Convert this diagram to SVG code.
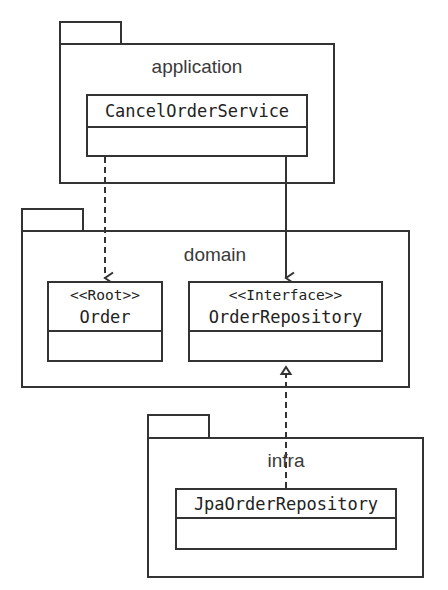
<svg xmlns="http://www.w3.org/2000/svg" width="448" height="590" viewBox="0 0 448 590">
<style>
.pkg{fill:#fff;stroke:#333;stroke-width:2}
.box{fill:#fff;stroke:#333;stroke-width:2}
.plabel{font-family:"Liberation Sans",Arial,sans-serif;font-size:19px;fill:#3a3a3a;text-anchor:middle}
.cname{font-family:"DejaVu Sans Mono","Liberation Mono",monospace;font-size:17px;fill:#222;text-anchor:middle}
.stereo{font-family:"DejaVu Sans Mono","Liberation Mono",monospace;font-size:14.5px;fill:#222;text-anchor:middle}
.conn{fill:none;stroke:#333;stroke-width:2}
.dash{stroke-dasharray:6 4}
</style>
<defs>
<marker id="open" markerWidth="14" markerHeight="12" refX="7" refY="10" orient="auto" markerUnits="userSpaceOnUse" viewBox="0 0 14 12">
<path d="M1.5,2 L7,10 L12.5,2" fill="none" stroke="#333" stroke-width="2"/>
</marker>
</defs>
<rect width="448" height="590" fill="#fff"/>
<g id="pkg-application">
<rect class="pkg" x="60" y="22" width="61" height="22"/>
<rect class="pkg" x="60" y="44" width="274" height="139"/>
<text class="plabel" x="197" y="73">application</text>
</g>
<g id="pkg-domain">
<rect class="pkg" x="22" y="209" width="61" height="22"/>
<rect class="pkg" x="22" y="231" width="387" height="156"/>
<text class="plabel" x="215" y="261">domain</text>
</g>
<g id="pkg-infra">
<rect class="pkg" x="148" y="415" width="61" height="23"/>
<rect class="pkg" x="148" y="438" width="275" height="139"/>
</g>
<g id="connectors">
<line class="conn dash" x1="105" y1="157" x2="105" y2="278" marker-end="url(#open)"/>
<line class="conn" x1="286" y1="156" x2="286" y2="278" marker-end="url(#open)"/>
<line class="conn dash" x1="286" y1="488" x2="286" y2="374"/>
<polygon points="286,367 281.5,374 290.5,374" fill="#fff" stroke="#333" stroke-width="2"/>
</g>
<g id="CancelOrderService">
<rect class="box" x="87" y="95" width="220" height="61"/>
<line class="conn" x1="87" y1="127" x2="307" y2="127"/>
<text class="cname" x="197" y="117">CancelOrderService</text>
</g>
<g id="Order">
<rect class="box" x="48" y="282" width="114" height="79"/>
<line class="conn" x1="48" y1="331" x2="162" y2="331"/>
<text class="stereo" x="105" y="300">&lt;&lt;Root&gt;&gt;</text>
<text class="cname" x="105" y="323">Order</text>
</g>
<g id="OrderRepository">
<rect class="box" x="189" y="282" width="193" height="79"/>
<line class="conn" x1="189" y1="331" x2="382" y2="331"/>
<text class="stereo" x="285.5" y="300">&lt;&lt;Interface&gt;&gt;</text>
<text class="cname" x="285.5" y="323">OrderRepository</text>
</g>
<g id="infra-label">
<text class="plabel" x="286" y="467">infra</text>
</g>
<g id="JpaOrderRepository">
<rect class="box" x="176" y="489" width="220" height="60"/>
<line class="conn" x1="176" y1="518" x2="396" y2="518"/>
<text class="cname" x="286" y="510">JpaOrderRepository</text>
</g>
</svg>
